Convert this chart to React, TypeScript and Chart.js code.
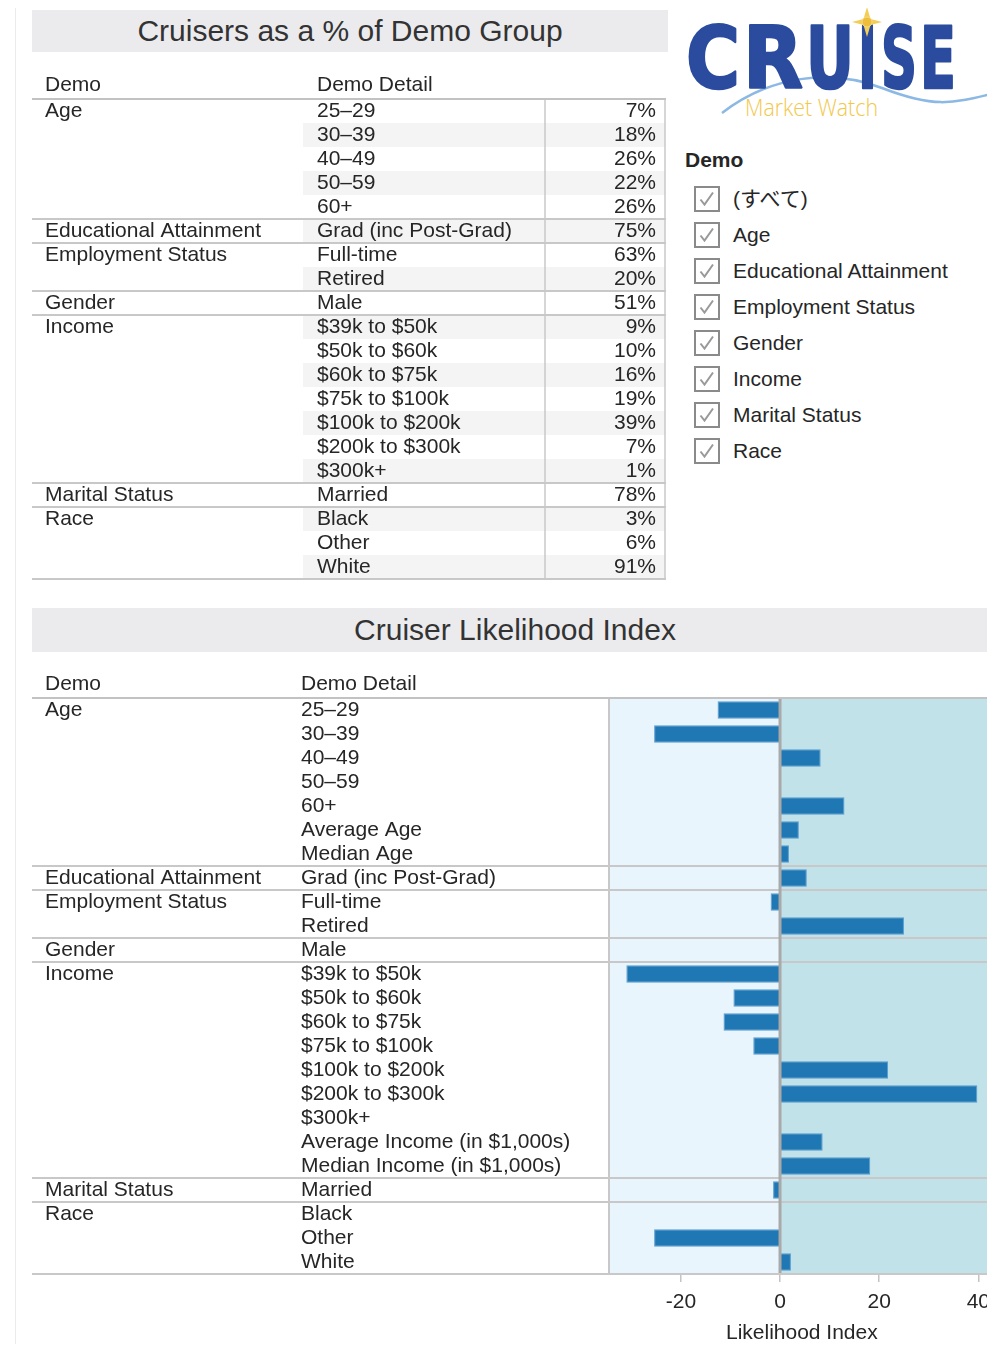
import React, { useEffect, useRef } from "react";
import { Chart, registerables } from "chart.js";

Chart.register(...registerables);

const FONT = "'Liberation Sans', Arial, Helvetica, 'Noto Sans CJK JP', sans-serif";
const TEXT = "#262626";

// ---------- Top table: Cruisers as a % of Demo Group ----------
const topGroups = ["Age", "Educational Attainment", "Employment Status", "Gender", "Income", "Marital Status", "Race"];
const topGroupSizes = [5, 1, 2, 1, 7, 1, 3];
const topDetails = [
  "25–29", "30–39", "40–49", "50–59", "60+",
  "Grad (inc Post-Grad)",
  "Full-time", "Retired",
  "Male",
  "$39k to $50k", "$50k to $60k", "$60k to $75k", "$75k to $100k", "$100k to $200k", "$200k to $300k", "$300k+",
  "Married",
  "Black", "Other", "White",
];
const topPercents = [7, 18, 26, 22, 26, 75, 63, 20, 51, 9, 10, 16, 19, 39, 7, 1, 78, 3, 6, 91];

// ---------- Bottom chart: Cruiser Likelihood Index ----------
const idxGroups = ["Age", "Educational Attainment", "Employment Status", "Gender", "Income", "Marital Status", "Race"];
const idxGroupSizes = [7, 1, 2, 1, 9, 1, 3];
const idxDetails = [
  "25–29", "30–39", "40–49", "50–59", "60+", "Average Age", "Median Age",
  "Grad (inc Post-Grad)",
  "Full-time", "Retired",
  "Male",
  "$39k to $50k", "$50k to $60k", "$60k to $75k", "$75k to $100k", "$100k to $200k", "$200k to $300k", "$300k+",
  "Average Income (in $1,000s)", "Median Income (in $1,000s)",
  "Married",
  "Black", "Other", "White",
];
const idxValues = [
  -12.6, -25.4, 8.2, 0, 13, 3.8, 1.8,
  5.4,
  -1.9, 25,
  0,
  -31, -9.4, -11.4, -5.4, 21.8, 39.8, 0, 8.6, 18.2,
  -1.4,
  0, -25.4, 2.2,
];
const idxAxisMin = -34.5;
const idxAxisMax = 43.3;
const idxTickStep = 20;

const legendTitle = "Demo";
const legendItems = ["(すべて)", "Age", "Educational Attainment", "Employment Status", "Gender", "Income", "Marital Status", "Race"];

function drawText(ctx: CanvasRenderingContext2D, s: string, x: number, y: number, align: CanvasTextAlign = "left", font = `21px ${FONT}`) {
  ctx.save();
  ctx.font = font;
  ctx.fillStyle = TEXT;
  ctx.textAlign = align;
  ctx.textBaseline = "middle";
  ctx.fillText(s, x, y);
  ctx.restore();
}

function hLine(ctx: CanvasRenderingContext2D, x1: number, x2: number, y: number, color = "#c8c8c8", w = 2) {
  ctx.save();
  ctx.strokeStyle = color;
  ctx.lineWidth = w;
  ctx.beginPath();
  ctx.moveTo(x1, Math.round(y));
  ctx.lineTo(x2, Math.round(y));
  ctx.stroke();
  ctx.restore();
}

function vLine(ctx: CanvasRenderingContext2D, x: number, y1: number, y2: number, color = "#c8c8c8", w = 2) {
  ctx.save();
  ctx.strokeStyle = color;
  ctx.lineWidth = w;
  ctx.beginPath();
  ctx.moveTo(x, y1);
  ctx.lineTo(x, y2);
  ctx.stroke();
  ctx.restore();
}

const topTablePlugin = {
  id: "topTable",
  beforeDraw(chart: any) {
    const { ctx } = chart;
    const y = chart.scales.y;
    ctx.save();
    ctx.fillStyle = "#f4f4f4";
    topDetails.forEach((_, i) => {
      if (i % 2 === 1) {
        const t = y.getPixelForValue(i - 0.5);
        const b = y.getPixelForValue(i + 0.5);
        ctx.fillRect(271, t, 633 - 271, b - t);
      }
    });
    ctx.restore();
  },
  afterDraw(chart: any) {
    const { ctx, chartArea } = chart;
    const y = chart.scales.y;
    const headY = chartArea.top - 14;
    drawText(ctx, "Demo", 13, headY);
    drawText(ctx, "Demo Detail", 285, headY);
    topDetails.forEach((d, i) => {
      const py = y.getPixelForValue(i);
      drawText(ctx, d, 285, py);
      drawText(ctx, `${topPercents[i]}%`, 624, py, "right");
    });
    let start = 0;
    topGroups.forEach((g, gi) => {
      drawText(ctx, g, 13, y.getPixelForValue(start));
      start += topGroupSizes[gi];
      if (gi < topGroups.length - 1) hLine(ctx, 0, 634, y.getPixelForValue(start - 0.5));
    });
    vLine(ctx, 513, chartArea.top, chartArea.bottom, "#c8c8c8", 1.5);
    vLine(ctx, 633, chartArea.top, chartArea.bottom, "#c8c8c8", 1.5);
    hLine(ctx, 0, 634, chartArea.top, "#c2c2c2", 2);
    hLine(ctx, 0, 634, chartArea.bottom, "#c8c8c8", 2);
  },
};

const idxTablePlugin = {
  id: "idxTable",
  beforeDraw(chart: any) {
    const { ctx, chartArea } = chart;
    const x0 = chart.scales.x.getPixelForValue(0);
    ctx.save();
    ctx.fillStyle = "#e9f5fc";
    ctx.fillRect(chartArea.left, chartArea.top, x0 - chartArea.left, chartArea.bottom - chartArea.top);
    ctx.fillStyle = "#c0e2e8";
    ctx.fillRect(x0, chartArea.top, chartArea.right - x0, chartArea.bottom - chartArea.top);
    ctx.restore();
  },
  afterDatasetsDraw(chart: any) {
    const { ctx, chartArea, width } = chart;
    const y = chart.scales.y;
    const x0 = chart.scales.x.getPixelForValue(0);
    let start = 0;
    idxGroups.forEach((g, gi) => {
      start += idxGroupSizes[gi];
      if (gi < idxGroups.length - 1) hLine(ctx, 0, width, y.getPixelForValue(start - 0.5));
    });
    vLine(ctx, chartArea.left, chartArea.top, chartArea.bottom, "#c8c8c8", 2);
    vLine(ctx, x0, chartArea.top, chartArea.bottom, "#a9a9a9", 3);
    hLine(ctx, 0, width, chartArea.top, "#c2c2c2", 2);
    hLine(ctx, 0, width, chartArea.bottom, "#c8c8c8", 2);
  },
  afterDraw(chart: any) {
    const { ctx, chartArea } = chart;
    const y = chart.scales.y;
    const headY = chartArea.top - 14;
    drawText(ctx, "Demo", 13, headY);
    drawText(ctx, "Demo Detail", 269, headY);
    idxDetails.forEach((d, i) => drawText(ctx, d, 269, y.getPixelForValue(i)));
    let start = 0;
    idxGroups.forEach((g, gi) => {
      drawText(ctx, g, 13, y.getPixelForValue(start));
      start += idxGroupSizes[gi];
    });
  },
};

function CheckBox() {
  return (
    <svg width={26} height={26} viewBox="0 0 26 26">
      <rect x={1} y={1} width={24} height={24} fill="#ffffff" stroke="#8a8a8a" strokeWidth={2} />
      <path d="M6.5 13.5 L10.5 18.5 L19 6.5" fill="none" stroke="#999999" strokeWidth={2} />
    </svg>
  );
}

function Logo() {
  const letters: [string, number, number][] = [
    ["C", 686, 54],
    ["R", 743, 60],
    ["U", 806, 48],
    ["I", 858, 19],
    ["S", 881, 36],
    ["E", 920, 36],
  ];
  return (
    <svg style={{ position: "absolute", left: 672, top: 0 }} width={307} height={125} viewBox="680 8 307 125">
      <path d="M722 113 C770 76 830 68 882 88 S950 104 995 93" stroke="#8cb8e4" strokeWidth={2.5} fill="none" />
      {letters.map(([ch, x, w]) => (
        <text
          key={ch + x}
          x={x}
          y={88}
          fontSize={86}
          fontWeight="bold"
          fontFamily="'DejaVu Sans', sans-serif"
          fill="#2b4b9e"
          stroke="#2b4b9e"
          strokeWidth={2.5}
          strokeLinejoin="round"
          textLength={w}
          lengthAdjust="spacingAndGlyphs"
        >
          {ch}
        </text>
      ))}
      <polygon points="867,7 870.5,19 882,22 870.5,25 867,37 863.5,25 852,22 863.5,19" fill="#f3cd55" />
      <circle cx={867} cy={22} r={5} fill="#eebd3a" stroke="#f7dc85" strokeWidth={1} />
      <text
        x={745}
        y={116}
        fontSize={24}
        fontFamily="'Open Sans', sans-serif"
        fontWeight={300}
        fill="#f2c84b"
        textLength={133}
        lengthAdjust="spacingAndGlyphs"
      >
        Market Watch
      </text>
    </svg>
  );
}

export default function App() {
  const topRef = useRef<HTMLCanvasElement | null>(null);
  const idxRef = useRef<HTMLCanvasElement | null>(null);

  useEffect(() => {
    document.documentElement.style.overflow = "hidden";
    document.body.style.width = "979px";
    const root = document.getElementById("root");
    if (root) root.style.width = "979px";

    const topChart = new Chart(topRef.current as HTMLCanvasElement, {
      type: "bar",
      data: {
        labels: topDetails,
        datasets: [{ data: topPercents, backgroundColor: "rgba(0,0,0,0)", borderWidth: 0 }],
      },
      options: {
        indexAxis: "y",
        responsive: false,
        animation: false,
        events: [],
        layout: { padding: { top: 39, bottom: 11, left: 0, right: 0 } },
        plugins: { legend: { display: false }, tooltip: { enabled: false } },
        scales: {
          x: { display: false, min: 0, max: 100 },
          y: { display: false, offset: true },
        },
      },
      plugins: [topTablePlugin],
    } as any);

    const idxChart = new Chart(idxRef.current as HTMLCanvasElement, {
      type: "bar",
      data: {
        labels: idxDetails,
        datasets: [
          {
            data: idxValues,
            backgroundColor: "#1f77b4",
            borderColor: "#5a9bd0",
            borderWidth: 1,
            barPercentage: 0.72,
            categoryPercentage: 1,
          },
        ],
      },
      options: {
        indexAxis: "y",
        responsive: false,
        animation: false,
        events: [],
        layout: { padding: { left: 577, top: 38, right: 0, bottom: 0 } },
        plugins: { legend: { display: false }, tooltip: { enabled: false } },
        scales: {
          y: { display: false, offset: true },
          x: {
            type: "linear",
            position: "bottom",
            min: idxAxisMin,
            max: idxAxisMax,
            afterFit: (s: any) => {
              s.height = 72;
            },
            grid: { drawOnChartArea: false, drawTicks: true, tickLength: 8, color: "#c4c4c4", lineWidth: 1.5 },
            border: { display: false },
            ticks: {
              stepSize: idxTickStep,
              includeBounds: false,
              padding: 8,
              color: TEXT,
              font: { family: FONT, size: 21 },
              maxRotation: 0,
              autoSkip: false,
            },
            title: {
              display: true,
              text: "Likelihood Index",
              color: TEXT,
              font: { family: FONT, size: 21 },
              padding: { top: 0, bottom: 0 },
            },
          },
        },
      },
      plugins: [idxTablePlugin],
    } as any);

    return () => {
      topChart.destroy();
      idxChart.destroy();
    };
  }, []);

  const titleStyle: React.CSSProperties = {
    position: "absolute",
    background: "#ebebee",
    color: "#333333",
    fontFamily: FONT,
    fontSize: 30,
    textAlign: "center",
    whiteSpace: "nowrap",
  };

  return (
    <div style={{ position: "relative", width: 979, height: 1336, overflow: "hidden", fontFamily: FONT, color: TEXT, background: "#fff" }}>
      <div style={{ position: "absolute", left: 7, top: -8, width: 1, height: 1352, background: "#ebebeb" }} />
      <div style={{ ...titleStyle, left: 24, top: 2, width: 636, height: 42, lineHeight: "42px" }}>
        Cruisers as a % of Demo Group
      </div>
      <canvas ref={topRef} width={636} height={530} style={{ position: "absolute", left: 24, top: 52, width: 636, height: 530 }} />

      <Logo />

      <div style={{ position: "absolute", left: 677, top: 140, height: 24, lineHeight: "24px", fontSize: 21, fontWeight: "bold", whiteSpace: "nowrap" }}>
        {legendTitle}
      </div>
      {legendItems.map((it, i) => (
        <React.Fragment key={it}>
          <div style={{ position: "absolute", left: 686, top: 178 + 36 * i, width: 26, height: 26 }}>
            <CheckBox />
          </div>
          <div style={{ position: "absolute", left: 725, top: 179 + 36 * i, height: 24, lineHeight: "24px", fontSize: 21, whiteSpace: "nowrap" }}>
            {it}
          </div>
        </React.Fragment>
      ))}

      <div style={{ ...titleStyle, left: 24, top: 600, width: 966, height: 44, lineHeight: "44px" }}>
        Cruiser Likelihood Index
      </div>
      <canvas ref={idxRef} width={966} height={686} style={{ position: "absolute", left: 24, top: 652, width: 966, height: 686 }} />
    </div>
  );
}
